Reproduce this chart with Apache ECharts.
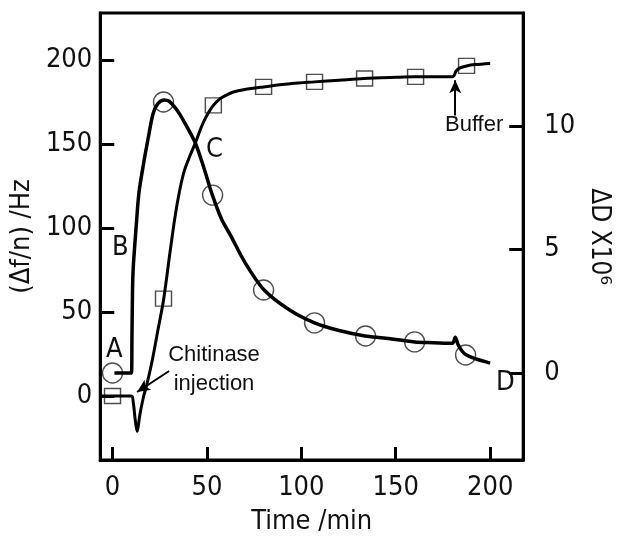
<!DOCTYPE html>
<html lang="en">

<head>
  <meta charset="UTF-8">
  <title>Chitinase QCM-D</title>
  <style>
    html, body { margin: 0; padding: 0; background: #fff; }
  </style>
</head>

<body>

  <div id="main" style="width: 620px; height:540px;"></div>
  <script src="https://cdn.jsdelivr.net/npm/echarts@6/dist/echarts.min.js"></script>
  <script type="text/javascript">
    // frequency curve (left axis, Hz): [time, value]
    var freqLine = [
      [-6.5, 0], [10, 0], [11, -4], [12, -14], [13, -21], [14.5, -11], [16.5, 0], [18, 6],
      [21, 21], [24, 39], [27, 57], [30.5, 86], [33, 106], [35.5, 122], [38, 134], [41, 143],
      [44, 151], [47, 160], [49, 165], [51, 169], [53.4, 173], [57, 177], [60, 179], [64, 181],
      [70, 182.5], [80, 184], [95, 186], [107, 187], [120, 188], [133, 189], [150, 189.7],
      [160, 190], [170, 190], [180, 190], [181, 191], [182, 193.5], [184, 195.3], [187.5, 196.5],
      [192, 197.3], [200, 198]
    ];
    // dissipation curve (right axis, x10^6): [time, value]
    var dissLine = [
      [1, 0], [10, 0], [10.3, 1.5], [10.6, 3.4], [11, 4.3], [12.5, 5.9], [14, 7.3], [16.5, 8.5],
      [19, 9.55], [21.5, 10.5], [24, 10.9], [27.4, 11.05], [30, 11.0], [32.5, 10.8], [35.4, 10.5],
      [39.5, 9.95], [43.9, 9.3], [48.4, 8.3], [52.9, 7.2], [57.9, 6.2], [62.3, 5.6], [70.3, 4.45],
      [80.3, 3.36], [93.8, 2.55], [107, 2.03], [120, 1.72], [133.7, 1.5], [143.6, 1.42],
      [160, 1.26], [170, 1.23], [180, 1.2], [181.5, 1.45], [183, 1.15], [185, 0.9], [187, 0.75],
      [192, 0.58], [200, 0.4]
    ];
    // open markers
    var squareTimes = [0, 27, 53.4, 80, 107, 133.5, 160.5, 187.5];
    var squareValues = [0, 58, 173, 184, 187, 189, 190, 196.5];
    var circleTimes = [0, 27, 53, 80, 107, 134, 160, 187];
    var circleValues = [0, 10.97, 7.2, 3.36, 2.03, 1.5, 1.26, 0.73];
    // tick labels
    var xTicks = [0, 50, 100, 150, 200];
    var leftTicks = [0, 50, 100, 150, 200];
    var rightTicks = [0, 5, 10];
    // annotation arrows (left axis coords): [from, to]
    var chitinaseArrow = [[30, 14.9], [13, 2.4]];
    var bufferArrow = [[181.5, 167], [181.5, 188]];

    var numFont = '"DejaVu Sans Condensed", "DejaVu Sans", sans-serif';
    var annFont = '"Liberation Sans", Arial, sans-serif';

    function zip(a, b) {
      return a.map(function (v, i) { return [v, b[i]]; });
    }

    var myChart = echarts.init(document.getElementById('main'));

    var option = {
      animation: false,
      backgroundColor: '#fff',
      grid: {
        left: 99, right: 73, top: 13, bottom: 80,
        show: true, borderColor: '#000', borderWidth: 3
      },
      xAxis: {
        type: 'value', min: -6.5, max: 217.5,
        name: 'Time /min', nameLocation: 'middle', nameGap: 48,
        nameTextStyle: { fontFamily: numFont, fontSize: 27, color: '#111' },
        splitLine: { show: false },
        axisLine: { onZero: false, lineStyle: { color: '#000', width: 3 } },
        axisTick: { inside: true, length: 13, customValues: xTicks, lineStyle: { color: '#000', width: 3 } },
        axisLabel: { customValues: xTicks, margin: 14, fontFamily: numFont, fontSize: 27, color: '#111' }
      },
      yAxis: [{
        type: 'value', min: -38.1, max: 228, position: 'left',
        name: '(\u0394f/n) /Hz', nameLocation: 'middle', nameGap: 62,
        nameTextStyle: { fontFamily: numFont, fontSize: 27, color: '#111' },
        splitLine: { show: false },
        axisLine: { show: true, onZero: false, lineStyle: { color: '#000', width: 3 } },
        axisTick: { show: true, inside: true, length: 14, customValues: leftTicks, lineStyle: { color: '#000', width: 3 } },
        axisLabel: { customValues: leftTicks, margin: 8, fontFamily: numFont, fontSize: 27, color: '#111' }
      }, {
        type: 'value', min: -3.52, max: 14.57, position: 'right',
        name: '\u0394D X10\u2076', nameLocation: 'middle', nameGap: 40, nameRotate: -90,
        nameTextStyle: { fontFamily: numFont, fontSize: 26, color: '#111' },
        splitLine: { show: false },
        axisLine: { show: true, onZero: false, lineStyle: { color: '#000', width: 3 } },
        axisTick: { show: true, inside: true, length: 14, customValues: rightTicks, lineStyle: { color: '#000', width: 3 } },
        axisLabel: { customValues: rightTicks, margin: 21, fontFamily: numFont, fontSize: 27, color: '#111' }
      }],
      series: [{
        name: 'freq-markers', type: 'scatter', yAxisIndex: 0, z: 2,
        symbol: 'rect', symbolSize: [16, 15],
        itemStyle: { color: 'rgba(0,0,0,0)', borderColor: '#222', borderWidth: 1.4 },
        data: zip(squareTimes, squareValues)
      }, {
        name: 'diss-markers', type: 'scatter', yAxisIndex: 1, z: 2,
        symbol: 'circle', symbolSize: 20,
        itemStyle: { color: 'rgba(0,0,0,0)', borderColor: '#222', borderWidth: 1.4 },
        data: zip(circleTimes, circleValues)
      }, {
        name: 'freq', type: 'line', yAxisIndex: 0, z: 3,
        smooth: 0.3, showSymbol: false,
        lineStyle: { color: '#000', width: 3 },
        data: freqLine,
        markLine: {
          silent: true, symbol: ['none', 'arrow'], symbolSize: [9, 13],
          label: { show: false },
          lineStyle: { color: '#000', width: 2, type: 'solid' },
          data: [
            [{ coord: chitinaseArrow[0] }, { coord: chitinaseArrow[1] }],
            [{ coord: bufferArrow[0] }, { coord: bufferArrow[1] }]
          ]
        }
      }, {
        name: 'diss', type: 'line', yAxisIndex: 1, z: 3,
        smooth: 0.3, showSymbol: false,
        lineStyle: { color: '#000', width: 3.5 },
        data: dissLine
      }],
      graphic: [
        { type: 'text', left: 106, top: 336, style: { text: 'A', font: '27px ' + numFont, fill: '#111' } },
        { type: 'text', left: 112, top: 234, style: { text: 'B', font: '27px ' + numFont, fill: '#111' } },
        { type: 'text', left: 206, top: 136, style: { text: 'C', font: '27px ' + numFont, fill: '#111' } },
        { type: 'text', left: 496, top: 369, style: { text: 'D', font: '27px ' + numFont, fill: '#111' } },
        { type: 'text', x: 214, y: 344, style: { text: 'Chitinase', font: '22px ' + annFont, fill: '#111', align: 'center', verticalAlign: 'top' } },
        { type: 'text', x: 214, y: 373, style: { text: 'injection', font: '22px ' + annFont, fill: '#111', align: 'center', verticalAlign: 'top' } },
        { type: 'text', left: 445, top: 114, style: { text: 'Buffer', font: '22px ' + annFont, fill: '#111' } }
      ]
    };
    myChart.setOption(option);
  </script>
</body>

</html>
